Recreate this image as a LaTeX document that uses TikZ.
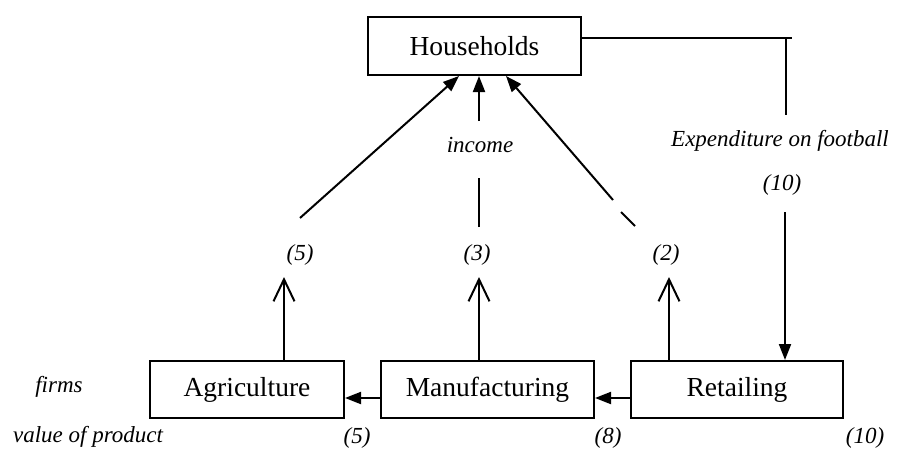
\documentclass[tikz,border=0pt]{standalone}
\usepackage{fontspec}
\setmainfont{Liberation Serif}
\usetikzlibrary{arrows.meta,calc}

\tikzset{
  sector/.style={draw, line width=2pt, minimum height=57pt, inner sep=0pt,
    font=\fontsize{27.5}{30}\selectfont},
  lbl/.style={inner sep=0pt, font=\fontsize{23}{26}\selectfont\itshape},
  flow/.style={line width=2pt, -{Triangle[length=16pt,width=12pt]}},
  plain/.style={line width=2pt},
  openup/.style={line width=2pt, -{Straight Barb[length=22pt,width=21pt,line width=2pt]}}
}

\begin{document}
\begin{tikzpicture}[x=1pt,y=-1pt]
  \useasboundingbox (0,0) rectangle (900,450);

  % sectors
  \node[sector, minimum width=213pt, minimum height=58pt] (hh)  at (474.5,46)  {Households};
  \node[sector, minimum width=194pt] (agr) at (247,389.5)   {Agriculture};
  \node[sector, minimum width=213pt] (man) at (487.5,389.5) {Manufacturing};
  \node[sector, minimum width=212pt] (ret) at (737,389.5)   {Retailing};

  % row captions
  \node[lbl] (firms) at (59,387) {firms};
  \node[lbl] (vop)   at (88,437) {value of product};
  \node[lbl] (v5)  at (357,438) {(5)};
  \node[lbl] (v8)  at (608,438) {(8)};
  \node[lbl] (v10) at (865,438) {(10)};

  % value added by each sector
  \node[lbl] (a5) at (300,255) {(5)};
  \node[lbl] (m3) at (477,255) {(3)};
  \node[lbl] (r2) at (666,255) {(2)};
  \node[lbl] (inc) at (480,145) {income};

  % purchases between firms
  \draw[flow] (man.west |- 0,398) -- (agr.east |- 0,398);
  \draw[flow] (ret.west |- 0,398) -- (man.east |- 0,398);

  % value added leaving each firm
  \draw[openup] (agr.north -| 284,0) -- (284,277);
  \draw[openup] (man.north -| 479,0) -- (479,277);
  \draw[openup] (ret.north -| 669,0) -- (669,277);

  % incomes paid to households
  \coordinate (aS) at (300,218);
  \draw[flow] (aS) -- (hh.south -| 459,0);

  \coordinate (mS) at (479,227);
  \coordinate (mE) at (479,178);
  \coordinate (mR) at (479,121);
  \draw[plain] (mS) -- (mE);
  \draw[flow] (mR) -- (hh.south -| 479,0);

  \coordinate (rS) at (635,226);
  \coordinate (rE) at (621,212);
  \coordinate (rR) at (613,200);
  \draw[plain] (rS) -- (rE);
  \draw[flow] (rR) -- (hh.south -| 506,0);

  % household spending on football
  \node[lbl] (exp) at (780,141) {Expenditure on football};
  \node[lbl] (e10) at (782,185) {(10)};
  \coordinate (corner) at (786,38);
  \coordinate (over) at (792,38);
  \coordinate (eB) at (786,115);
  \coordinate (eT) at (785,212);
  \draw[plain] (hh.east |- corner) -- (over);
  \draw[plain] (corner) -- (eB);
  \draw[flow] (eT) -- (ret.north -| eT);
\end{tikzpicture}
\end{document}
